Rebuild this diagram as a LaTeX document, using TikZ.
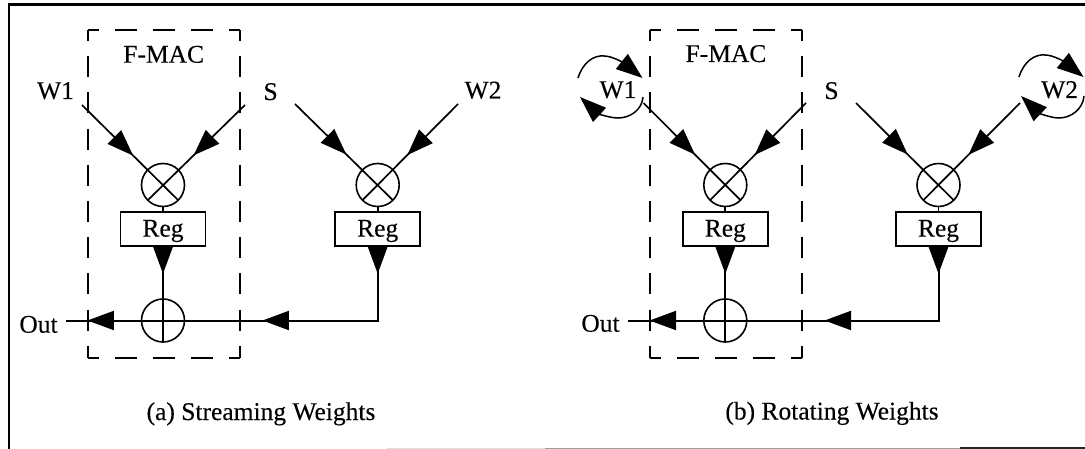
\documentclass[tikz,border=0pt]{standalone}
\usepackage{fontspec}
\setmainfont{Liberation Serif}[FakeBold=0.25]
\usetikzlibrary{arrows.meta,decorations.markings,calc}
\tikzset{
  x=1pt,y=-1pt,
  every node/.style={font=\fontsize{25.5}{30}\selectfont,inner sep=0pt,outer sep=0pt},
  lbl/.style={anchor=base,text=black},
  opcircle/.style={circle,draw,line width=1.6pt,minimum size=43pt},
  regbox/.style={rectangle,draw,line width=1.9pt,minimum width=85pt,minimum height=33.5pt,text height=20pt,text depth=4.8pt},
  macframe/.style={rectangle,minimum width=152pt,minimum height=327.5pt},
  dashh/.style={line width=2pt,dash pattern=on 22pt off 16pt,dash phase=11pt},
  dashv/.style={line width=2pt,dash pattern=on 21pt off 15.2pt,dash phase=10.5pt},
  bigtip/.tip={Triangle[length=26.5pt,width=19pt]},
  wire/.style={line width=1.7pt},
  bus/.style={line width=2pt},
  tipat/.style={postaction={decorate,decoration={markings,mark=at position #1 with {\arrow{bigtip}}}}},
  twotips/.style 2 args={postaction={decorate,decoration={markings,
     mark=at position #1 with {\arrow{bigtip}},
     mark=at position #2 with {\arrow{bigtip}}}}},
  rot/.style={line width=1.5pt,-{bigtip}},
  border/.style={line width=2.1pt},
}
\begin{document}
\begin{tikzpicture}
\useasboundingbox (0,0) rectangle (1085,449);
% outer frame
\coordinate (fa) at (9,4.5); \coordinate (fb) at (1085,4.5); \coordinate (fc) at (9,449);
\draw[border] (fb) -- (fa) -- (fc);
\coordinate (fd) at (545,448.2); \coordinate (fe) at (1085,448.2); \coordinate (ff) at (387,448.2);
\coordinate (fg) at (960,448.2);
\draw[line width=1pt,gray!25] (ff) -- (fd);
\draw[line width=1.3pt,gray!75] (fd) -- (fg);
\draw[line width=1.6pt,black!85] (fg) -- (fe);

% ---------- panel (a)
\node[macframe] (fm1) at (164,194.2) {};
\draw[dashh] (fm1.north west) -- (fm1.north east);
\draw[dashh] (fm1.south west) -- (fm1.south east);
\draw[dashv] (fm1.north west) -- (fm1.south west);
\draw[dashv] (fm1.north east) -- (fm1.south east);
\node[lbl] (t1) at (163.7,62.7) {F-MAC};
\node[lbl] (wa1) at (55.5,99) {W1};
\node[lbl] (sa) at (270.6,100) {S};
\node[lbl] (wa2) at (483,98.5) {W2};
\node[opcircle] (m1) at (163,185) {};
\node[opcircle] (m2) at (377.7,185) {};
\node[regbox] (r1) at (163,229) {Reg};
\node[regbox] (r2) at (377.7,229) {Reg};
\node[opcircle] (a1) at (163,320.5) {};
\coordinate (i1) at (82,105); \coordinate (i2) at (245,105);
\coordinate (i3) at (295,104); \coordinate (i4) at (458,104);
\coordinate (oa) at (66,320.5);
\draw[wire,tipat=72pt] (i1) -- (m1.-45);
\draw[wire,tipat=72pt] (i2) -- (m1.-135);
\draw[wire,tipat=72pt] (i3) -- (m2.-45);
\draw[wire,tipat=72pt] (i4) -- (m2.-135);
\draw[wire] (m1.south) -- (r1.north);
\draw[wire] (m2.south) -- (r2.north);
\draw[bus,tipat=28pt] (r1.south) -- (a1.south);
\draw[bus,twotips={28pt}{190pt},postaction={decorate,decoration={markings,mark=at position 365pt with {\arrow{bigtip}}}}] (r2.south) |- (oa);
\node[lbl] (oat) at (38.5,332.7) {Out};
\node[lbl] (capa) at (261,420) {(a) Streaming Weights};

% ---------- panel (b)
\node[macframe] (fm2) at (726,194.2) {};
\draw[dashh] (fm2.north west) -- (fm2.north east);
\draw[dashh] (fm2.south west) -- (fm2.south east);
\draw[dashv] (fm2.north west) -- (fm2.south west);
\draw[dashv] (fm2.north east) -- (fm2.south east);
\node[lbl] (t2) at (726,62) {F-MAC};
\node[lbl] (wb1) at (618,98) {W1};
\node[lbl] (sb) at (831.5,99) {S};
\node[lbl] (wb2) at (1059.6,98) {W2};
\node[opcircle] (m3) at (725.3,185) {};
\node[opcircle] (m4) at (938.5,185) {};
\node[regbox] (r3) at (725.3,229) {Reg};
\node[regbox] (r4) at (938.5,229) {Reg};
\node[opcircle] (a2) at (725.3,320.5) {};
\coordinate (j1) at (643.5,103); \coordinate (j2) at (806,103);
\coordinate (j3) at (856,103); \coordinate (j4) at (1020,103);
\coordinate (ob) at (627.7,320.5);
\draw[wire,tipat=73pt] (j1) -- (m3.-45);
\draw[wire,tipat=73pt] (j2) -- (m3.-135);
\draw[wire,tipat=73pt] (j3) -- (m4.-45);
\draw[wire,tipat=73pt] (j4) -- (m4.-135);
\draw[wire] (m3.south) -- (r3.north);
\draw[wire] (m4.south) -- (r4.north);
\draw[bus,tipat=28pt] (r3.south) -- (a2.south);
\draw[bus,twotips={28pt}{188.7pt},postaction={decorate,decoration={markings,mark=at position 363.7pt with {\arrow{bigtip}}}}] (r4.south) |- (ob);
\node[lbl] (obt) at (600.5,331.7) {Out};
\node[lbl] (capb) at (832,419.5) {(b) Rotating Weights};

% rotation arcs
\draw[rot] (578,78) .. controls (583,62) and (594,55) .. (604,56) .. controls (613,56) and (625,64) .. (642.5,78);
\draw[rot] (643,97) .. controls (642,110) and (630,118) .. (618,118) .. controls (610,118) and (598,113.5) .. (580,97);
\draw[rot] (1019,77) .. controls (1024,61) and (1035,54) .. (1045,55) .. controls (1054,55) and (1066,63) .. (1083.5,77);
\draw[rot] (1084,96) .. controls (1083,109) and (1071,118) .. (1059,118) .. controls (1051,118) and (1039,113) .. (1021,96);
\end{tikzpicture}
\end{document}
